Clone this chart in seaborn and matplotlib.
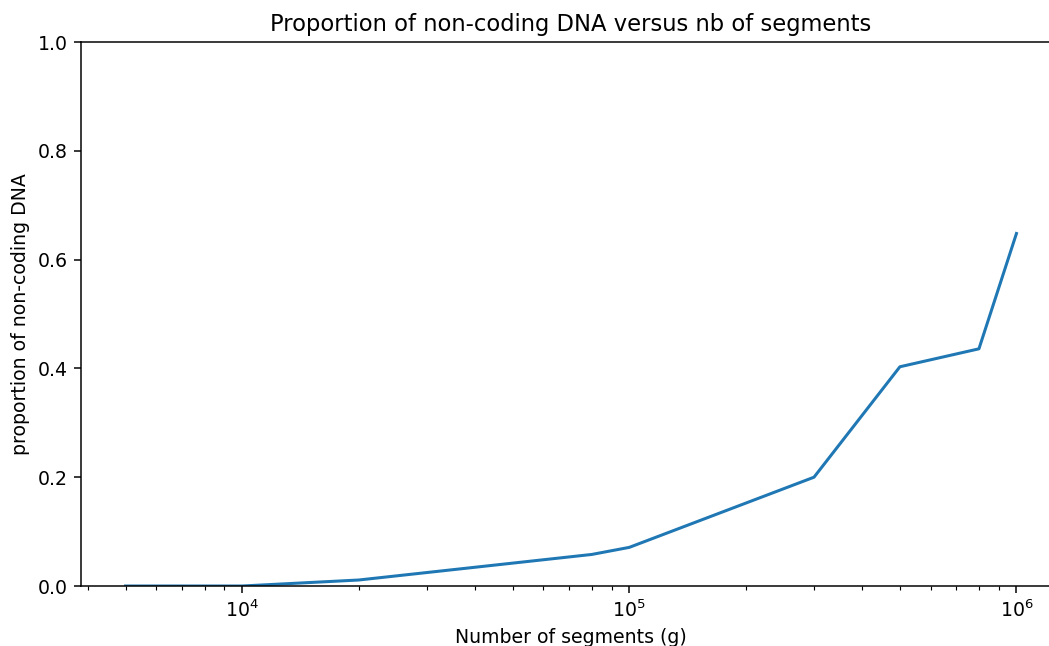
import matplotlib
matplotlib.use("Agg")
import matplotlib.pyplot as plt
import seaborn as sns
import pandas as pd

# Number of segments (g) and the resulting share of non-coding DNA
segments = [5000, 10000, 20000, 80000, 100000, 300000, 500000, 800000, 1000000]
noncoding = [0.0, 0.0, 0.011, 0.058, 0.071, 0.200, 0.403, 0.436, 0.648]

df = pd.DataFrame({"g": segments, "prop": noncoding})

DPI = 136
fig = plt.figure(figsize=(1049 / DPI, 646 / DPI), dpi=DPI)
# axes run slightly past the right edge of the canvas
ax = fig.add_axes([81 / 1049, 60 / 646, (1061 - 81) / 1049, (586 - 42) / 646])

sns.lineplot(data=df, x="g", y="prop", ax=ax, color="#1f77b4", linewidth=1.6)
ax.set_xscale("log")
ax.set_ylim(0, 1.0)
ax.set_title("Proportion of non-coding DNA versus nb of segments")
ax.set_xlabel("Number of segments (g)")
ax.set_ylabel("proportion of non-coding DNA")

fig.savefig("out.png", dpi=DPI)
